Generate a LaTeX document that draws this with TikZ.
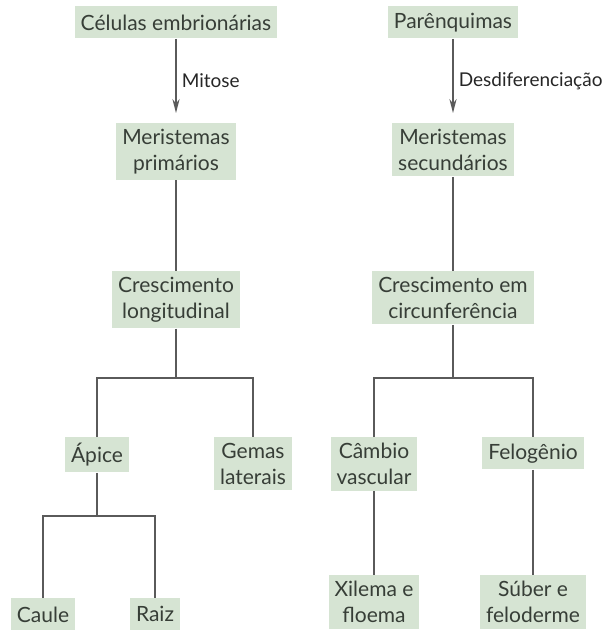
\documentclass[tikz,border=0pt]{standalone}
\usepackage{fontspec}
\setmainfont{Lato}
\usepackage{xcolor}
\usetikzlibrary{arrows.meta,positioning}

\definecolor{boxgreen}{RGB}{214,228,211}
\definecolor{boxtext}{RGB}{55,62,55}
\definecolor{linegray}{RGB}{90,90,90}

\begin{document}
\begin{tikzpicture}[
				x=0.5pt, y=-0.5pt,
				font=\fontsize{10.5}{12.8}\selectfont,
				>=Stealth,
				tissue/.style={
					rectangle, fill=boxgreen, text=boxtext,
					align=center, inner xsep=3pt, inner ysep=3pt,
					minimum height=16pt, anchor=north
				},
				arr/.style={->, line width=0.8pt, linegray,
					shorten >=5pt, -{Stealth[length=7pt, width=3.6pt]}},
				link/.style={line width=0.8pt, linegray},
				label/.style={text=black!85, inner sep=2.5pt,
					font=\fontsize{9.5}{11}\selectfont}
				]
				\useasboundingbox (0,0) rectangle (611,633);
				
				%% ─── PRIMARY GROWTH ────────────────────────────────────────────
				\node[tissue] (cel) at (176,6) {Células embrionárias};
				\node[tissue] (merp) at (176,123) {Meristemas\\primários};
				\node[tissue] (clong) at (176,271) {Crescimento\\longitudinal};
				
				\draw[arr] (cel) -- node[right, label]{Mitose} (merp);
				\draw[link] (merp) -- (clong);
				
				\coordinate (jl) at (176,378);
				\node[tissue] (apice) at (97,437) {Ápice};
				\node[tissue] (gemas) at (253,437) {Gemas\\laterais};
				\draw[link] (clong) -- (jl);
				\draw[link] (apice.north) |- (jl) -| (gemas.north);
				
				\coordinate (ja) at (97,516);
				\node[tissue] (caule) at (43,598) {Caule};
				\node[tissue] (raiz) at (155,598) {Raiz};
				\draw[link] (apice) -- (ja);
				\draw[link] (caule.north) |- (ja) -| (raiz.north);
				
				%% ─── SECONDARY GROWTH ──────────────────────────────────────────
				\node[tissue] (par) at (453,6) {Parênquimas};
				\node[tissue] (mers) at (453,123) {Meristemas\\secundários};
				\node[tissue] (ccirc) at (453,271) {Crescimento em\\circunferência};
				
				\draw[arr] (par) -- node[right, label]{Desdiferenciação} (mers);
				\draw[link] (mers) -- (ccirc);
				
				\coordinate (jr) at (453,378);
				\node[tissue] (camb) at (374,437) {Câmbio\\vascular};
				\node[tissue] (felo) at (533,437) {Felogênio};
				\draw[link] (ccirc) -- (jr);
				\draw[link] (camb.north) |- (jr) -| (felo.north);
				
				\node[tissue] (xil) at (374,575) {Xilema e\\floema};
				\node[tissue] (sub) at (533,575) {Súber e\\feloderme};
				\draw[link] (camb) -- (xil);
				\draw[link] (felo) -- (sub);
				
\end{tikzpicture}
\end{document}
